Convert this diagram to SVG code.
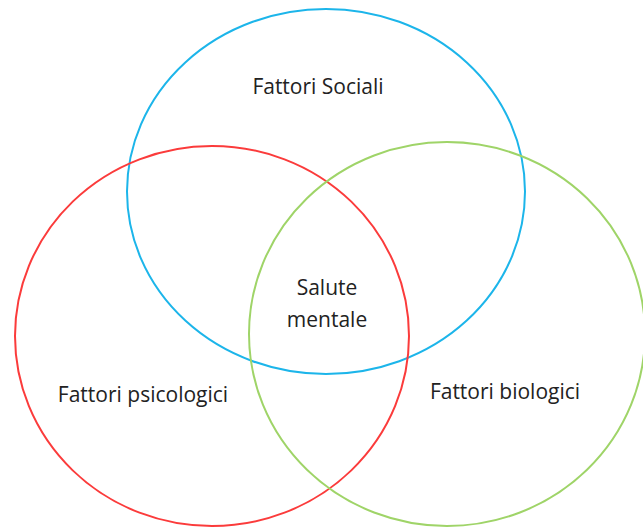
<svg xmlns="http://www.w3.org/2000/svg" width="643" height="528" viewBox="0 0 643 528">
<style>
.c{fill:none;stroke-width:2}
text{font-family:"Open Sans","Liberation Sans",sans-serif;font-size:21px;fill:#222;text-anchor:middle}
</style>
<rect width="643" height="528" fill="#fff"/>
<g id="sociali"><ellipse class="c" cx="326" cy="191.5" rx="199" ry="182.5" stroke="#1cb5ea"/><text x="318" y="94">Fattori Sociali</text></g>
<g id="psicologici"><ellipse class="c" cx="212" cy="336" rx="197" ry="190" stroke="#fb3b3b"/><text x="143" y="402">Fattori psicologici</text></g>
<g id="biologici"><ellipse class="c" cx="447" cy="334" rx="198" ry="192" stroke="#9fd468"/><text x="505" y="399">Fattori biologici</text></g>
<g id="salute"><text x="327" y="295">Salute</text><text x="327" y="327">mentale</text></g>
<g id="connectors"/>
</svg>
